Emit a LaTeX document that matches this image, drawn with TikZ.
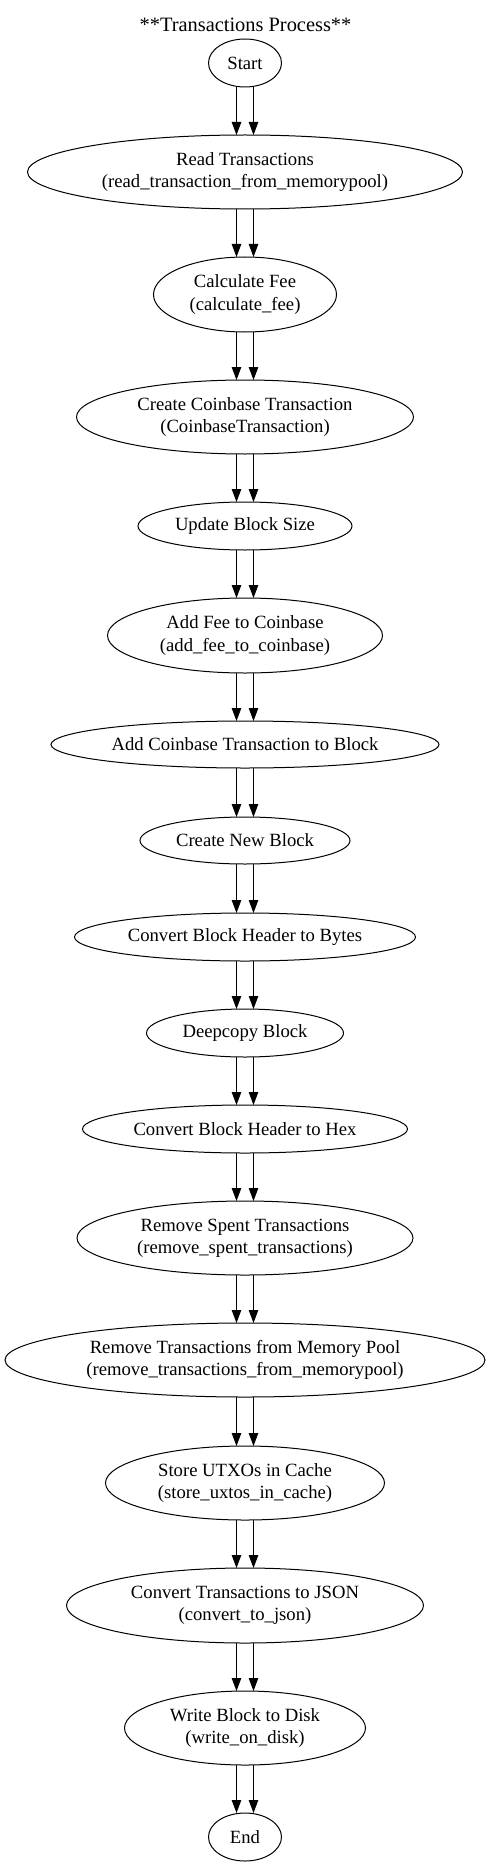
\documentclass[tikz,border=0pt]{standalone}
\usepackage{fontspec}
\setmainfont{Liberation Serif}
\usetikzlibrary{shapes.geometric,arrows.meta}
\newcommand\gvfont{\fontsize{18.67}{22.4}\selectfont}
\newcommand\gvtitlefont{\fontsize{20.4}{24}\selectfont}
\tikzset{
  proc/.style 2 args={draw, ellipse, line width=1pt, inner sep=0pt, outer sep=0pt,
    align=center, font=\gvfont, minimum width=#1pt, minimum height=#2pt},
  edge/.style={line width=1pt, -{Triangle[length=13pt,width=9.5pt]}},
  ttl/.style={font=\gvtitlefont, inner sep=0pt, anchor=base}
}
\begin{document}
\begin{tikzpicture}[x=1pt,y=1pt]
\useasboundingbox (0,0) rectangle (489,-1867);
\node[ttl] (title) at (245.5,-31.5) {**Transactions Process**};
\node[proc={73}{48}]  (start)    at (245,-63)     {Start};
\node[proc={435}{74}] (read)     at (245,-172)    {Read Transactions\\(read\_transaction\_from\_memorypool)};
\node[proc={183}{75}] (fee)      at (245,-294.5)  {Calculate Fee\\(calculate\_fee)};
\node[proc={337}{74}] (coinbase) at (245,-417)    {Create Coinbase Transaction\\(CoinbaseTransaction)};
\node[proc={214}{48}] (size)     at (245,-526)    {Update Block Size};
\node[proc={275}{75}] (addfee)   at (245,-635.5)  {Add Fee to Coinbase\\(add\_fee\_to\_coinbase)};
\node[proc={388}{47}] (addcb)    at (245,-744.5)  {Add Coinbase Transaction to Block};
\node[proc={210}{47}] (newblock) at (245,-840.5)  {Create New Block};
\node[proc={341}{48}] (bytes)    at (245,-937)    {Convert Block Header to Bytes};
\node[proc={197}{48}] (deep)     at (245,-1033)   {Deepcopy Block};
\node[proc={325}{48}] (hex)      at (245,-1129)   {Convert Block Header to Hex};
\node[proc={336}{74}] (spent)    at (245,-1238)   {Remove Spent Transactions\\(remove\_spent\_transactions)};
\node[proc={480}{74}] (mempool)  at (245,-1360)   {Remove Transactions from Memory Pool\\(remove\_transactions\_from\_memorypool)};
\node[proc={279}{74}] (utxo)     at (245,-1483)   {Store UTXOs in Cache\\(store\_uxtos\_in\_cache)};
\node[proc={357}{75}] (json)     at (245,-1605.5) {Convert Transactions to JSON\\(convert\_to\_json)};
\node[proc={241}{74}] (disk)     at (245,-1728)   {Write Block to Disk\\(write\_on\_disk)};
\node[proc={73}{48}]  (end)      at (245,-1837)   {End};
\foreach \a/\b in {start/read, read/fee, fee/coinbase, coinbase/size, size/addfee,
  addfee/addcb, addcb/newblock, newblock/bytes, bytes/deep, deep/hex, hex/spent,
  spent/mempool, mempool/utxo, utxo/json, json/disk, disk/end}{
  \draw[edge] ([xshift=-8.5pt]\a.south) -- ([xshift=-8.5pt]\b.north);
  \draw[edge] ([xshift=8.5pt]\a.south) -- ([xshift=8.5pt]\b.north);
}
\end{tikzpicture}
\end{document}
